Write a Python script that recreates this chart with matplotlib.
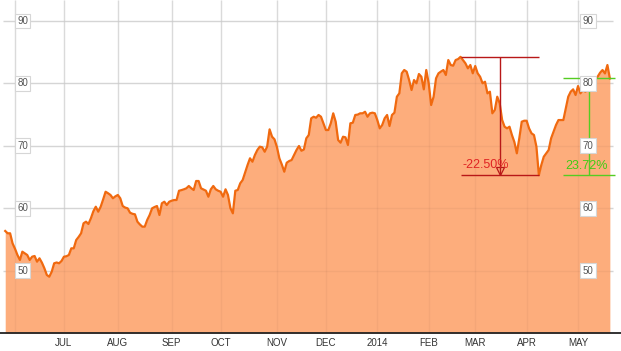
import numpy as np
import pandas as pd
import matplotlib
matplotlib.use("Agg")
import matplotlib.pyplot as plt

plt.rcParams['font.family'] = ['Liberation Sans', 'DejaVu Sans']

# trading calendar (NYSE holidays inside the window)
holidays = ["2013-07-04", "2013-09-02", "2013-11-28", "2013-12-25",
            "2014-01-01", "2014-01-20", "2014-02-17", "2014-04-18"]
sessions = pd.bdate_range("2013-05-28", "2014-05-20", freq="C", holidays=holidays)

# daily close
price = [
    56.35, 55.98, 55.98, 54.37, 53.50, 52.50, 51.70, 53.03, 52.77, 52.50,
    51.70, 52.23, 52.34, 51.43, 51.97, 51.27, 50.37, 49.30, 49.02, 49.82,
    51.17, 51.30, 51.17, 51.54, 52.23, 52.30, 52.50, 53.57, 53.57, 54.90,
    55.40, 55.98, 57.58, 57.84, 57.47, 58.38, 59.50, 60.24, 59.44, 60.24,
    61.40, 62.64, 62.40, 62.12, 61.59, 61.90, 62.12, 61.59, 60.35, 60.10,
    59.98, 59.28, 59.10, 59.02, 57.84, 57.40, 57.04, 57.04, 58.11, 58.91,
    59.98, 60.19, 60.35, 58.91, 60.79, 61.04, 60.51, 61.04, 61.20, 61.31,
    61.31, 62.80, 62.90, 63.03, 63.19, 63.56, 63.20, 62.92, 64.36, 64.36,
    63.19, 63.00, 62.80, 61.84, 63.03, 63.56, 63.03, 62.80, 62.64, 61.84,
    63.03, 62.12, 60.00, 59.18, 62.80, 62.92, 63.99, 64.52, 65.70, 66.92,
    68.00, 67.45, 68.53, 69.33, 69.86, 69.76, 69.05, 69.86, 72.64, 71.46,
    71.04, 69.80, 68.00, 67.00, 65.85, 67.29, 67.56, 67.72, 68.53, 69.33,
    69.97, 69.21, 69.40, 71.20, 71.73, 74.41, 74.66, 74.50, 74.94, 74.66,
    73.60, 72.53, 72.53, 73.61, 75.21, 73.86, 70.93, 70.50, 71.46, 71.36,
    70.13, 73.61, 73.70, 74.94, 75.00, 75.21, 75.21, 75.46, 74.66, 75.21,
    75.31, 75.21, 74.13, 72.80, 73.33, 74.41, 74.94, 73.17, 74.94, 75.31,
    77.87, 78.41, 81.62, 82.15, 81.88, 80.54, 78.94, 80.54, 80.02, 81.51,
    81.07, 79.05, 82.15, 80.02, 76.54, 77.87, 80.82, 81.62, 81.90, 82.15,
    81.35, 83.75, 82.95, 82.84, 83.75, 83.90, 84.26, 83.75, 83.22, 82.42,
    82.95, 81.62, 82.79, 81.62, 81.07, 80.02, 80.27, 78.41, 78.67, 75.21,
    75.74, 77.87, 76.81, 74.13, 73.06, 72.80, 73.06, 71.73, 70.60, 68.80,
    71.20, 73.86, 74.02, 74.02, 72.80, 72.00, 71.73, 69.86, 65.30, 66.92,
    68.25, 68.80, 69.33, 71.20, 72.26, 73.33, 74.13, 74.13, 74.13, 76.01,
    77.87, 78.67, 79.05, 78.14, 79.58, 78.41, 78.94, 78.67, 79.05, 80.27,
    80.66, 80.90, 81.07, 81.71, 82.15, 81.60, 82.95, 80.79,
]
y_ticks = [50, 60, 70, 80, 90]

price = np.array(price)
x = np.arange(len(sessions))

# first session of each month -> gridlines / labels
months = sessions.to_period("M")
month_idx = [i for i in range(1, len(sessions)) if months[i] != months[i - 1]]
month_lab = []
for i in month_idx:
    d = sessions[i]
    if d.month == 1:
        month_lab.append(str(d.year))
    elif d.month == 6:
        month_lab.append("")
    else:
        month_lab.append(d.strftime("%b").upper())

# peak of the year, then the low after it
i_max = int(np.argmax(price))
i_min = i_max + int(np.argmin(price[i_max:]))
drop = price[i_min] / price[i_max] - 1
rise = price[-1] / price[i_min] - 1

fig = plt.figure(figsize=(6.21, 3.51), dpi=100)
ax = fig.add_axes([0, 18 / 351, 1, 333 / 351])
ymin, ymax = 40.0, 93.37
ax.set_xlim(-2.13, 251.55)
ax.set_ylim(ymin, ymax)

# grid: light under the fill, very faint over it
ax.vlines(month_idx, ymin, ymax, color="#e2e2e2", lw=1, zorder=0)
ax.hlines(y_ticks, -0.9, 248.3, color="#dedede", lw=1, zorder=0)
ax.fill_between(x, price, ymin, color="#fdad7c", lw=0, zorder=1)
ax.vlines(month_idx, ymin, ymax, color="k", alpha=0.035, lw=1, zorder=2)
ax.hlines(y_ticks, -0.9, 248.3, color="k", alpha=0.04, lw=1, zorder=2)
ax.plot(x, price, color="#f0690f", lw=1.6, zorder=3)

# drawdown annotation
red = "#b81818"
ax.hlines([price[i_max], price[i_min]], i_max, i_min, color=red, lw=1, zorder=4)
xm = (i_max + i_min) / 2
ax.vlines(xm, price[i_min], price[i_max], color=red, lw=1, zorder=4)
ax.plot(xm, price[i_min] + 0.7, marker="v", ms=6, mfc="none", mec=red, mew=0.9, zorder=4)
ax.text(i_max + 0.8, price[i_min] + 1.6, f"{drop * 100:.2f}%", color="#e02424",
        fontsize=9, ha="left", va="center", zorder=5)

# rebound annotation
green = "#55cc22"
gx0, gx1 = 228, 249.1
ax.hlines([price[-1], price[i_min]], gx0, gx1, color=green, lw=1, zorder=4)
ax.vlines((gx0 + gx1) / 2, price[i_min], price[-1], color=green, lw=1, zorder=4)
ax.text(gx0 + 0.6, price[i_min] + 1.5, f"{rise * 100:.2f}%", color="#40cc14",
        fontsize=9, ha="left", va="center", zorder=5)

# boxed y labels on both sides
box = dict(boxstyle="square,pad=0.25", fc="white", ec="#d6d6d6", lw=0.8)
for v in y_ticks:
    for xf in (22.5 / 621, 588 / 621):
        ax.text(xf, v, str(v), transform=ax.get_yaxis_transform(), ha="center",
                va="center", fontsize=7, color="#555555", bbox=box, zorder=6)

ax.set_xticks(month_idx)
ax.set_xticklabels(month_lab)
ax.tick_params(axis="x", length=0, pad=3.5, labelsize=7, labelcolor="#333333")
ax.set_yticks([])
for s in ("top", "left", "right"):
    ax.spines[s].set_visible(False)
ax.spines["bottom"].set_color("#222222")
ax.spines["bottom"].set_linewidth(1.3)

fig.savefig("out.png", dpi=100)
